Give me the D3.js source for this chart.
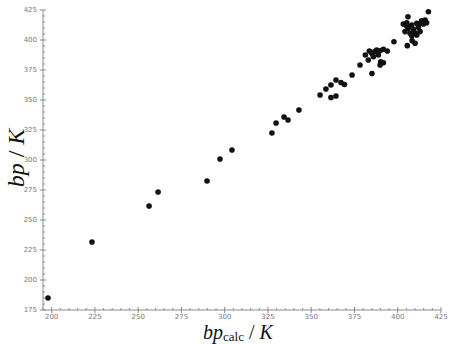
<!DOCTYPE html>
<html><head><meta charset="utf-8">
<script src="https://cdn.jsdelivr.net/npm/d3@7"></script>
<style>body{margin:0;background:#fff;}svg{display:block;}</style>
</head><body><div id="chart"></div>
<script>
const bpCalc = [197.9,223.3,256.3,261.5,289.8,297.3,304.2,327.3,329.7,334.3,336.6,342.9,355.1,358.5,361.4,361.4,364.3,364.3,367.2,369.2,373.6,378.2,385.1,381.3,383.6,385.0,386.5,387.8,389.8,391.7,394.0,383.0,385.9,388.8,390.2,389.8,391.7,397.8,405.5,410.0,408.3,405.9,417.7,403.2,405.2,408.1,411.0,413.8,415.8,414.8,406.1,409.0,411.9,404.2,407.1,410.0,412.9,408.1,411.0,405.2,412.9,416.7];
const bpExp  = [185.0,231.7,261.7,273.3,282.5,300.8,308.3,322.5,330.8,335.8,333.3,341.7,354.2,359.2,362.5,352.1,366.7,353.3,364.6,362.9,370.8,379.2,372.1,387.5,390.8,388.9,390.2,391.7,391.1,392.3,390.8,383.3,386.1,387.5,381.9,379.2,381.1,398.6,395.3,397.3,399.4,419.4,423.6,413.3,414.4,412.5,413.9,416.1,416.7,413.3,409.8,409.0,410.6,407.0,405.6,406.1,407.0,403.3,404.2,411.7,414.0,414.4];
const xTicks = [200,225,250,275,300,325,350,375,400,425];
const yTicks = [175,200,225,250,275,300,325,350,375,400,425];

const W = 451, H = 344;
const svg = d3.select("#chart").append("svg").attr("width", W).attr("height", H);
const x = d3.scaleLinear().domain([195, 425]).range([43, 441]);
const y = d3.scaleLinear().domain([175, 425]).range([310, 10]);

const axisColor = "#8a8a8a", labelColor = "#777";
const minorX = d3.range(195, 426, 5).filter(v => v % 25 !== 0);
const minorY = d3.range(175, 426, 5).filter(v => v % 25 !== 0);

// x axis
const gx = svg.append("g").attr("transform", `translate(0,${y(175)})`);
gx.append("line").attr("x1", x(195)).attr("x2", x(425)).attr("stroke", axisColor);
gx.selectAll(".mj").data(xTicks).join("line").attr("x1", d => x(d)).attr("x2", d => x(d))
  .attr("y1", -3).attr("y2", 3).attr("stroke", axisColor);
gx.selectAll(".mn").data(minorX).join("line").attr("class","mn").attr("x1", d => x(d)).attr("x2", d => x(d))
  .attr("y1", -2).attr("y2", 0).attr("stroke", axisColor);
gx.selectAll("text").data(xTicks).join("text").attr("x", d => x(d)).attr("y", 8.5)
  .attr("text-anchor", "middle").attr("font-family", "DejaVu Sans, sans-serif").attr("font-size", 7)
  .attr("fill", labelColor).text(d => d);

// y axis
const gy = svg.append("g").attr("transform", `translate(${x(195)},0)`);
gy.append("line").attr("y1", y(175)).attr("y2", y(425)).attr("stroke", axisColor);
gy.selectAll(".mj").data(yTicks).join("line").attr("y1", d => y(d)).attr("y2", d => y(d))
  .attr("x1", -3).attr("x2", 3).attr("stroke", axisColor);
gy.selectAll(".mn").data(minorY).join("line").attr("class","mn").attr("y1", d => y(d)).attr("y2", d => y(d))
  .attr("x1", 0).attr("x2", 2).attr("stroke", axisColor);
gy.selectAll("text").data(yTicks).join("text").attr("x", -6).attr("y", d => y(d)).attr("dy", "0.35em")
  .attr("text-anchor", "end").attr("font-family", "DejaVu Sans, sans-serif").attr("font-size", 7)
  .attr("fill", labelColor).text(d => d);

// points
svg.append("g").selectAll("circle").data(bpCalc.map((v, i) => [v, bpExp[i]])).join("circle")
  .attr("cx", d => x(d[0])).attr("cy", d => y(d[1])).attr("r", 2.8).attr("fill", "#111");

// axis titles
const yt = svg.append("text").attr("transform", "translate(24,158) rotate(-90)")
  .attr("text-anchor", "middle").attr("font-family", "Liberation Serif, serif").attr("font-size", 24).attr("fill", "#111");
yt.append("tspan").attr("font-style", "italic").text("bp");
yt.append("tspan").text(" / ");
yt.append("tspan").attr("font-style", "italic").text("K");

const xt = svg.append("text").attr("x", 238).attr("y", 339)
  .attr("text-anchor", "middle").attr("font-family", "Liberation Serif, serif").attr("font-size", 20).attr("fill", "#111");
xt.append("tspan").attr("font-style", "italic").text("bp");
xt.append("tspan").attr("font-size", 13).attr("dy", 2).text("calc");
xt.append("tspan").attr("dy", -2).text(" / ");
xt.append("tspan").attr("font-style", "italic").text("K");
</script></body></html>
